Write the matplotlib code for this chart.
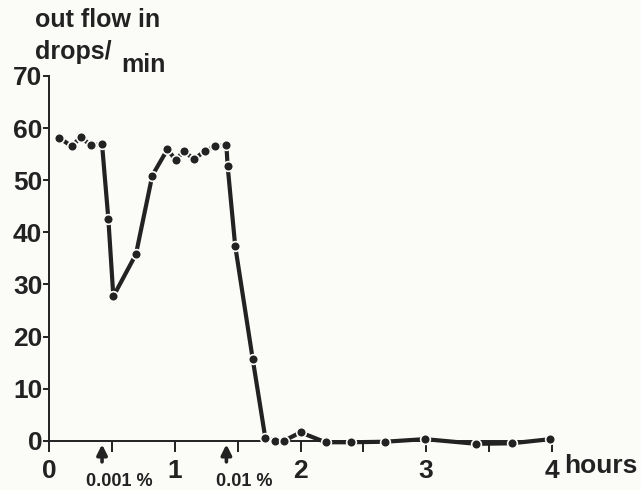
import matplotlib.pyplot as plt

# time (hours) and outflow (drops/min)
hours = [0.08, 0.18, 0.25, 0.33, 0.42, 0.47, 0.51, 0.69, 0.82, 0.94,
         1.01, 1.07, 1.15, 1.24, 1.32, 1.41, 1.42, 1.48, 1.62, 1.72,
         1.80, 1.87, 2.00, 2.20, 2.40, 2.67, 2.99, 3.40, 3.68, 3.99]
flow = [58.1, 56.5, 58.3, 56.7, 56.9, 42.6, 27.7, 35.8, 50.9, 55.9,
        53.8, 55.7, 54.0, 55.6, 56.5, 56.7, 52.7, 37.4, 15.6, 0.5,
        0.0, 0.0, 1.6, -0.3, -0.3, -0.2, 0.3, -0.6, -0.5, 0.3]

doses = ['0.001 %', '0.01 %']
dose_times = [0.42, 1.41]

ink = '#222222'
paper = '#fbfbf8'
plt.rcParams['font.family'] = ['Liberation Sans', 'DejaVu Sans']
plt.rcParams['font.weight'] = 'bold'

fig = plt.figure(figsize=(6.41, 4.90), dpi=100)
fig.patch.set_facecolor(paper)
ax = fig.add_axes([0.0769, 0.1006, 0.7838, 0.7443])
ax.set_facecolor('none')

ax.plot(hours, flow, color=ink, lw=3, marker='o', ms=7,
        mfc=ink, mec=paper, mew=1.2, clip_on=False, zorder=3)

ax.set_xlim(0, 4)
ax.set_ylim(0, 70)
for s in ['top', 'right']:
    ax.spines[s].set_visible(False)
for s in ['left', 'bottom']:
    ax.spines[s].set_color(ink)
    ax.spines[s].set_linewidth(1.4)

ax.set_yticks(range(0, 71, 10))
ax.tick_params(axis='y', length=4, width=1.4, color=ink, pad=1,
               labelsize=19, labelcolor=ink)
ax.set_xticks([0, 1, 2, 3, 4])
ax.set_xticklabels(['0', '1', '2', '3', '4'])
ax.set_xticks([0.5, 1.5, 2.5, 3.5], minor=True)
ax.tick_params(axis='x', which='both', length=8, width=1.4, color=ink,
               pad=5, labelsize=19, labelcolor=ink)

xt = ax.get_xaxis_transform()
ax.text(4.1, -0.07, 'hours', transform=xt, ha='left', va='center',
        fontsize=19, color=ink)

# dosing arrows below the time axis
for t, lab in zip(dose_times, doses):
    ax.annotate('', xy=(t, -0.01), xytext=(t, -0.058), xycoords=xt,
                arrowprops=dict(arrowstyle='-|>', color=ink, lw=2.6,
                                mutation_scale=15, shrinkA=0, shrinkB=0))
    ax.text(t + 0.14, -0.113, lab, transform=xt, ha='center', va='center',
            fontsize=13, color=ink)

fig.text(35 / 641, 1 - 20 / 490, 'out flow in', ha='left', va='center',
         fontsize=18, color=ink)
fig.text(35 / 641, 1 - 52 / 490, 'drops/', ha='left', va='center',
         fontsize=18, color=ink)
fig.text(121 / 641, 1 - 65 / 490, 'min', ha='left', va='center',
         fontsize=18, color=ink)

fig.savefig('out.png', dpi=100, facecolor=fig.get_facecolor())
